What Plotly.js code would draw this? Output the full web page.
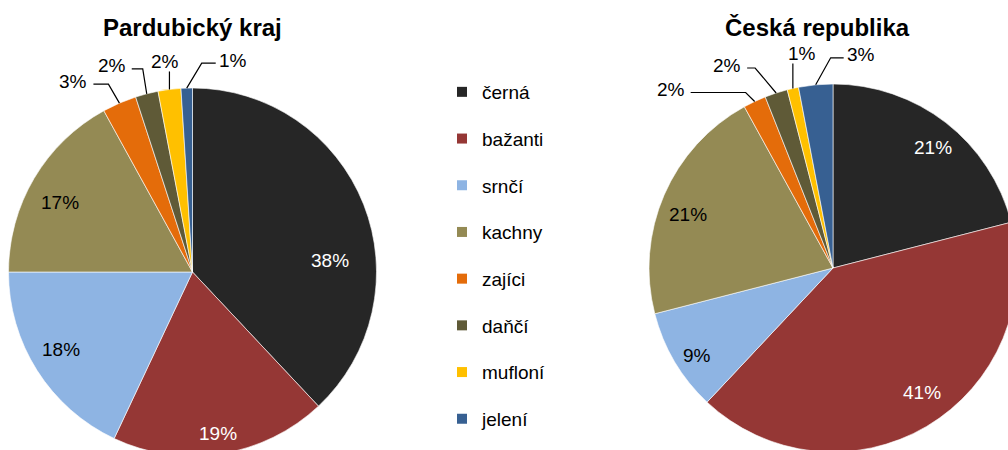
<!DOCTYPE html>
<html><head><meta charset="utf-8">
<script src="https://cdn.plot.ly/plotly-3.0.1.min.js"></script>
<style>html,body{margin:0;padding:0;overflow:hidden;background:#fff}#chart{width:1020px;height:460px}</style>
</head><body><div id="chart"></div>
<script>
// ---- data ----
const categories = ["černá","bažanti","srnčí","kachny","zajíci","daňčí","mufloní","jelení"];
const pardubickyValues = [38,19,18,17,3,2,2,1];
const ceskaValues = [21,41,9,21,2,2,1,3];
const titles = ["Pardubický kraj","Česká republika"];

// ---- styles / layout ----
const colors = ["#262626","#953735","#8EB4E3","#948A54","#E46C0A","#5F5A37","#FFC000","#376092"];
const FONT = "Liberation Sans, Arial, sans-serif";
const W=1020,H=460;
const pies = [
  {cx:192.5, cy:272, r:184, vals:pardubickyValues, titleX:192, titleY:28,
   // inside labels: [angle shift deg, radius fraction]
   inside:{0:[17,0.75],1:[0,0.89],2:[2,0.83],3:[-3,0.81]},
   // outside labels: [dx, dy from slice edge, leader style, elbow length]
   outside:{4:[-46,-22,"L",15],5:[-35,-28,"L",11],6:[-4,-28,"U",0],7:[46,-28,"R",14]}},
  {cx:833, cy:268, r:184, vals:ceskaValues, titleX:817, titleY:28,
   inside:{0:[2,0.85],1:[-5,0.83],2:[-2,0.88],3:[-3,0.84]},
   outside:{4:[-84,-12,"L",55],5:[-49,-28,"L",8],6:[9,-35,"U",0],7:[45,-30,"R",13]}}
];
const px = x => x/W, py = y => 1 - y/H;

const data=[], annotations=[], shapes=[];
pies.forEach((p,k)=>{
  const total = p.vals.reduce((a,b)=>a+b,0);
  data.push({type:"pie", values:p.vals, labels:categories, sort:false, direction:"clockwise", rotation:0,
    marker:{colors:colors, line:{color:"#ffffff", width:0.6}},
    textinfo:"none", showlegend:false, hoverinfo:"label+percent",
    domain:{x:[px(p.cx-p.r),px(p.cx+p.r)], y:[py(p.cy+p.r),py(p.cy-p.r)]}});
  annotations.push({text:"<b>"+titles[k]+"</b>",x:px(p.titleX),y:py(p.titleY),xref:"paper",yref:"paper",
    xanchor:"center",yanchor:"middle",showarrow:false,font:{family:FONT,size:24,color:"#000"}});
  let cum=0;
  p.vals.forEach((v,i)=>{
    const mid=(cum+v/2)/total*2*Math.PI; cum+=v;
    const txt=Math.round(v/total*100)+"%";
    if(p.inside[i]){
      const [sh,rf]=p.inside[i]; const a=mid+sh*Math.PI/180;
      annotations.push({text:txt,x:px(p.cx+rf*p.r*Math.sin(a)),y:py(p.cy-rf*p.r*Math.cos(a)),xref:"paper",yref:"paper",
        xanchor:"center",yanchor:"middle",showarrow:false,font:{family:FONT,size:19,color:(i<2?"#ffffff":"#000000")}});
    } else if(p.outside[i]){
      const [dx,dy,st,el]=p.outside[i];
      const ex=p.cx+p.r*Math.sin(mid), ey=p.cy-p.r*Math.cos(mid);
      const lx=ex+dx, ly=ey+dy, hw=15;
      annotations.push({text:txt,x:px(lx),y:py(ly),xref:"paper",yref:"paper",xanchor:"center",yanchor:"middle",
        showarrow:false,font:{family:FONT,size:19,color:"#000"}});
      let pts;
      if(st==="L") pts=[[ex,ey],[lx+hw+5+el,ly+3],[lx+hw+5,ly+3]];
      else if(st==="R") pts=[[ex,ey],[lx-hw-2-el,ly+3],[lx-hw-2,ly+3]];
      else pts=[[ex,ey],[ex,ly+10]];
      shapes.push({type:"path",xref:"paper",yref:"paper",
        path:"M"+pts.map(q=>px(q[0])+","+py(q[1])).join(" L"),line:{color:"#000",width:1.2}});
    }
  });
});
categories.forEach((c,i)=>{
  data.push({type:"scatter",mode:"markers",x:[null],y:[null],name:c,legendgroup:"g"+i,showlegend:true,
    marker:{symbol:"square",size:10,color:colors[i]},hoverinfo:"skip"});
});
const layout={width:W,height:H,margin:{l:0,r:0,t:0,b:0,autoexpand:false},paper_bgcolor:"#fff",plot_bgcolor:"#fff",
  font:{family:FONT,size:19,color:"#000"},
  xaxis:{visible:false},yaxis:{visible:false},
  legend:{x:px(442),y:py(73),xanchor:"left",yanchor:"top",tracegroupgap:19,font:{family:FONT,size:19,color:"#000"},bgcolor:"rgba(0,0,0,0)"},
  annotations:annotations, shapes:shapes};
Plotly.newPlot("chart",data,layout,{displayModeBar:false,staticPlot:true});
</script></body></html>
